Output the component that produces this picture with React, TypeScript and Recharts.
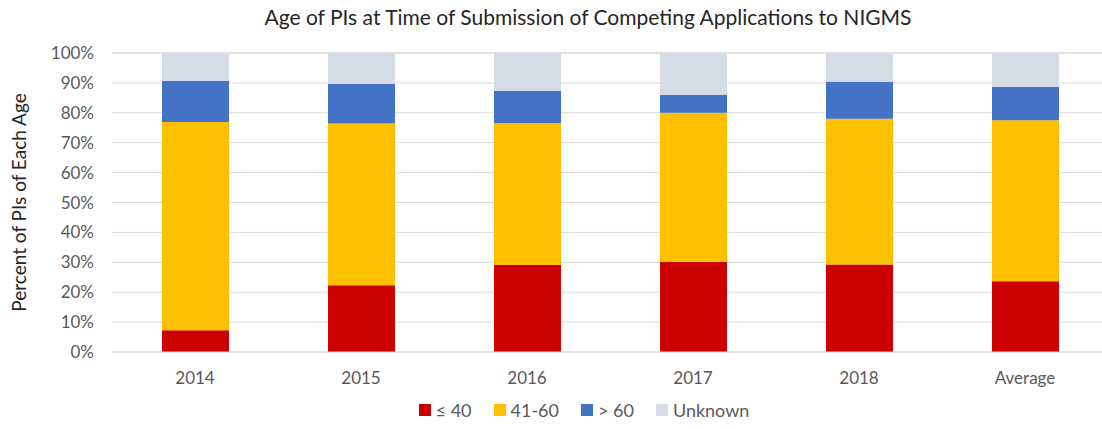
import { Bar, BarChart, CartesianGrid, Legend, XAxis, YAxis } from "recharts";

const years = ["2014", "2015", "2016", "2017", "2018", "Average"];
const under40 = [7.3, 22.3, 29.1, 30.1, 29.3, 23.7];
const mid41to60 = [69.6, 54.1, 47.4, 49.9, 48.7, 53.8];
const over60 = [13.8, 13.2, 10.8, 6.0, 12.3, 11.2];
const unknown = [9.3, 10.4, 12.7, 14.0, 9.7, 11.3];
const yTicks = [0, 10, 20, 30, 40, 50, 60, 70, 80, 90, 100];

const series = [
  { key: "under40", name: "≤ 40", color: "#CC0000" },
  { key: "mid", name: "41-60", color: "#FFC000" },
  { key: "over60", name: "> 60", color: "#4472C4" },
  { key: "unknown", name: "Unknown", color: "#D6DCE5" },
];

const data = years.map((year, i) => ({
  year,
  under40: under40[i],
  mid: mid41to60[i],
  over60: over60[i],
  unknown: unknown[i],
}));

const font = "Lato, 'Open Sans', sans-serif";

function LegendRow() {
  return (
    <div style={{ display: "flex", justifyContent: "center", gap: 22, paddingLeft: 60, fontSize: 18, color: "#595959" }}>
      {series.map((s) => (
        <span key={s.key} style={{ display: "flex", alignItems: "center", gap: 5 }}>
          <span style={{ width: 12, height: 12, background: s.color, display: "inline-block" }} />
          {s.name}
        </span>
      ))}
    </div>
  );
}

export default function App() {
  return (
    <div
      style={{
        position: "absolute",
        left: 0,
        top: 0,
        width: 1102,
        height: 429,
        overflow: "hidden",
        background: "#fff",
        fontFamily: font,
      }}
    >
      <div
        style={{
          position: "absolute",
          top: 4,
          left: 588,
          transform: "translateX(-50%)",
          whiteSpace: "nowrap",
          fontSize: 21,
          color: "#262626",
        }}
      >
        Age of PIs at Time of Submission of Competing Applications to NIGMS
      </div>
      <BarChart
        width={1110}
        height={429}
        data={data}
        margin={{ top: 53, right: 2, bottom: 0, left: 0 }}
        style={{ fontFamily: font }}
      >
        <CartesianGrid stroke="#d9d9d9" vertical={false} />
        <XAxis
          dataKey="year"
          height={47}
          tickLine={false}
          axisLine={{ stroke: "#d9d9d9" }}
          tickSize={0}
          tickMargin={20}
          tick={{ fontSize: 17, fill: "#595959" }}
        />
        <YAxis
          width={112}
          domain={[0, 100]}
          ticks={yTicks}
          tickFormatter={(v) => `${v}%`}
          axisLine={false}
          tickLine={false}
          tickSize={0}
          tickMargin={18}
          tick={{ fontSize: 17, fill: "#595959" }}
          label={{
            value: "Percent of PIs of Each Age",
            angle: -90,
            position: "insideLeft",
            offset: 19,
            style: { textAnchor: "middle", fontSize: 19, fill: "#262626" },
          }}
        />
        <Legend verticalAlign="bottom" height={30} content={() => <LegendRow />} />
        {series.map((s) => (
          <Bar
            key={s.key}
            dataKey={s.key}
            name={s.name}
            stackId="a"
            fill={s.color}
            barSize={67}
            isAnimationActive={false}
          />
        ))}
      </BarChart>
    </div>
  );
}
